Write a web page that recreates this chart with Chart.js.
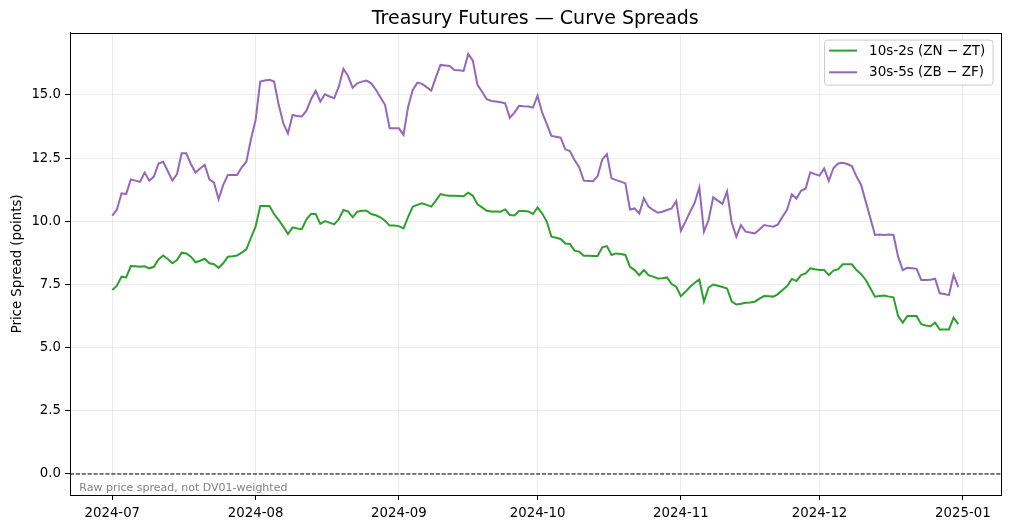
<!DOCTYPE html>
<html><head><meta charset="utf-8">
<script src="https://cdn.jsdelivr.net/npm/chart.js@4.4.1/dist/chart.umd.min.js"></script>
<style>html,body{margin:0;padding:0;background:#fff;}#wrap{width:1010px;height:529px;}</style>
</head><body><div id="wrap"><canvas id="c" width="1010" height="529"></canvas></div>
<script>
// Daily observations, 2024-07-01 .. 2024-12-31
const startDate = [2024, 6, 1];
const tickLabels = ['2024-07', '2024-08', '2024-09', '2024-10', '2024-11', '2024-12', '2025-01'];
const tickMonths = [[2024,6],[2024,7],[2024,8],[2024,9],[2024,10],[2024,11],[2025,0]];
const seriesLabels = ['10s-2s (ZN \u2212 ZT)', '30s-5s (ZB \u2212 ZF)'];

const spread10s2s = [
  // Jul
  7.28, 7.45, 7.81, 7.78, 8.23, 8.22, 8.20, 8.22, 8.14, 8.20, 8.49, 8.65, 8.51, 8.34, 8.47, 8.76,
  8.73, 8.60, 8.38, 8.44, 8.52, 8.34, 8.30, 8.16, 8.34, 8.60, 8.62, 8.65, 8.76, 8.89, 9.35,
  // Aug
  9.79, 10.61, 10.61, 10.61, 10.29, 10.05, 9.79, 9.50, 9.76, 9.72, 9.69, 10.08, 10.29, 10.29, 9.90, 10.01,
  9.95, 9.88, 10.08, 10.45, 10.39, 10.16, 10.38, 10.42, 10.42, 10.29, 10.24, 10.16, 10.02, 9.83, 9.83,
  // Sep
  9.81, 9.72, 10.18, 10.58, 10.65, 10.71, 10.65, 10.58, 10.82, 11.08, 11.03, 11.01, 11.01, 11.00, 10.99,
  11.13, 11.01, 10.67, 10.55, 10.42, 10.39, 10.39, 10.38, 10.47, 10.25, 10.23, 10.41, 10.41, 10.39, 10.29,
  // Oct
  10.55, 10.31, 9.99, 9.39, 9.35, 9.30, 9.12, 9.10, 8.84, 8.80, 8.64, 8.64, 8.63, 8.63, 8.97, 9.02,
  8.67, 8.73, 8.71, 8.67, 8.20, 8.07, 7.87, 8.07, 7.87, 7.81, 7.74, 7.75, 7.78, 7.52, 7.41,
  // Nov
  7.04, 7.21, 7.41, 7.57, 7.70, 6.82, 7.38, 7.50, 7.45, 7.40, 7.34, 6.82, 6.71, 6.74, 6.78,
  6.79, 6.82, 6.94, 7.04, 7.03, 7.02, 7.12, 7.28, 7.44, 7.72, 7.64, 7.87, 7.94, 8.14, 8.10,
  // Dec
  8.07, 8.07, 7.87, 8.05, 8.10, 8.30, 8.30, 8.30, 8.07, 7.91, 7.68, 7.35, 7.02, 7.04, 7.06, 7.02,
  6.99, 6.25, 5.99, 6.25, 6.25, 6.25, 5.93, 5.88, 5.85, 5.99, 5.72, 5.72, 5.72, 6.19, 5.93
];

const spread30s5s = [
  // Jul
  10.22, 10.47, 11.11, 11.08, 11.66, 11.61, 11.56, 11.93, 11.61, 11.77, 12.29, 12.36, 11.99, 11.61, 11.87, 12.69,
  12.69, 12.27, 11.93, 12.09, 12.23, 11.66, 11.53, 10.87, 11.44, 11.83, 11.83, 11.83, 12.14, 12.36, 13.25,
  // Aug
  14.01, 15.53, 15.57, 15.60, 15.53, 14.61, 13.88, 13.48, 14.21, 14.17, 14.15, 14.38, 14.83, 15.17, 14.74, 15.03,
  14.94, 14.87, 15.33, 16.03, 15.75, 15.29, 15.46, 15.53, 15.57, 15.46, 15.22, 14.91, 14.61, 13.68, 13.68,
  // Sep
  13.68, 13.42, 14.54, 15.20, 15.49, 15.44, 15.31, 15.17, 15.70, 16.19, 16.17, 16.15, 15.99, 15.98, 15.95,
  16.63, 16.36, 15.40, 15.13, 14.83, 14.76, 14.74, 14.71, 14.67, 14.10, 14.30, 14.57, 14.55, 14.54, 14.50,
  // Oct
  14.97, 14.30, 13.85, 13.38, 13.35, 13.31, 12.85, 12.78, 12.43, 12.14, 11.61, 11.60, 11.59, 11.79, 12.45, 12.66,
  11.70, 11.63, 11.57, 11.50, 10.47, 10.51, 10.31, 10.91, 10.58, 10.45, 10.34, 10.38, 10.45, 10.51, 10.80,
  // Nov
  9.63, 9.99, 10.38, 10.74, 11.34, 9.59, 10.05, 10.95, 10.82, 10.69, 11.18, 9.95, 9.39, 9.85, 9.59,
  9.56, 9.52, 9.68, 9.85, 9.82, 9.79, 9.88, 10.18, 10.47, 11.07, 10.90, 11.21, 11.30, 11.94, 11.87,
  // Dec
  11.81, 12.09, 11.60, 12.10, 12.29, 12.32, 12.27, 12.19, 11.77, 11.44, 10.78, 10.12, 9.46, 9.48, 9.46, 9.48,
  9.46, 8.60, 8.07, 8.16, 8.14, 8.12, 7.68, 7.68, 7.69, 7.73, 7.15, 7.12, 7.08, 7.88, 7.41
];

const yTicks = [0, 2.5, 5, 7.5, 10, 12.5, 15];

const DAY = 86400000;
const t0 = Date.UTC(startDate[0], startDate[1], startDate[2]);
const monthOffsets = tickMonths.map(([y, m]) => (Date.UTC(y, m, 1) - t0) / DAY);
const toPts = arr => arr.map((v, i) => ({ x: i, y: v }));
const nDays = spread10s2s.length - 1;
const xPad = nDays * 0.05;
const allVals = spread10s2s.concat(spread30s5s, [0]);
const yLo = Math.min(...allVals), yHi = Math.max(...allVals);
const yPad = (yHi - yLo) * 0.05;

const FONT = "'DejaVu Sans', 'Liberation Sans', sans-serif";

const extras = {
  id: 'extras',
  afterDatasetsDraw(chart) {
    const { ctx, chartArea: a, scales } = chart;
    ctx.save();
    // zero line
    const y0 = scales.y.getPixelForValue(0);
    ctx.strokeStyle = '#000';
    ctx.lineWidth = 1.1;
    ctx.setLineDash([4.1, 1.8]);
    ctx.beginPath();
    ctx.moveTo(a.left, y0);
    ctx.lineTo(a.right, y0);
    ctx.stroke();
    ctx.setLineDash([]);
    // frame
    ctx.lineWidth = 1;
    ctx.strokeRect(Math.round(a.left) + 0.5, Math.round(a.top) + 0.5, Math.round(a.right - a.left), Math.round(a.bottom - a.top));
    // footnote
    ctx.fillStyle = '#808080';
    ctx.font = "11px " + FONT;
    ctx.textAlign = 'left';
    ctx.textBaseline = 'alphabetic';
    ctx.fillText('Raw price spread, not DV01-weighted', a.left + 9.3, a.bottom - 4.3);
    // legend
    const bw = 168.5, bh = 45;
    const bx = a.right - 7.5 - bw, by = a.top + 7.3;
    const r = 3;
    ctx.beginPath();
    ctx.moveTo(bx + r, by);
    ctx.lineTo(bx + bw - r, by);
    ctx.arcTo(bx + bw, by, bx + bw, by + r, r);
    ctx.lineTo(bx + bw, by + bh - r);
    ctx.arcTo(bx + bw, by + bh, bx + bw - r, by + bh, r);
    ctx.lineTo(bx + r, by + bh);
    ctx.arcTo(bx, by + bh, bx, by + bh - r, r);
    ctx.lineTo(bx, by + r);
    ctx.arcTo(bx, by, bx + r, by, r);
    ctx.closePath();
    ctx.fillStyle = 'rgba(255,255,255,0.8)';
    ctx.fill();
    ctx.strokeStyle = '#cccccc';
    ctx.lineWidth = 1;
    ctx.stroke();
    const rows = [by + 10.5, by + 32.2];
    chart.data.datasets.forEach((ds, i) => {
      const ly = rows[i];
      ctx.strokeStyle = ds.borderColor;
      ctx.lineWidth = 2;
      ctx.beginPath();
      ctx.moveTo(bx + 4.6, ly);
      ctx.lineTo(bx + 32.6, ly);
      ctx.stroke();
      ctx.fillStyle = '#000';
      ctx.font = "13.5px " + FONT;
      ctx.textBaseline = 'middle';
      ctx.fillText(ds.label, bx + 44.6, ly + 0.5);
    });
    ctx.restore();
  }
};

new Chart(document.getElementById('c'), {
  type: 'line',
  data: {
    datasets: [
      { label: seriesLabels[0], data: toPts(spread10s2s), borderColor: '#2ca02c', borderWidth: 2, pointRadius: 0, tension: 0, fill: false },
      { label: seriesLabels[1], data: toPts(spread30s5s), borderColor: '#9467bd', borderWidth: 2, pointRadius: 0, tension: 0, fill: false }
    ]
  },
  options: {
    responsive: false,
    animation: false,
    devicePixelRatio: 1,
    layout: { padding: { left: 0, right: 9.5, top: 0, bottom: 0 } },
    plugins: {
      legend: { display: false },
      tooltip: { enabled: false },
      title: {
        display: true, text: 'Treasury Futures \u2014 Curve Spreads', color: '#000', fullSize: false,
        font: { family: FONT, size: 19, weight: 'normal', lineHeight: 1.2 },
        padding: { top: 8, bottom: 2 }
      }
    },
    scales: {
      x: {
        type: 'linear', min: -xPad, max: nDays + xPad,
        afterBuildTicks: s => { s.ticks = monthOffsets.map(v => ({ value: v })); },
        afterFit: s => { s.height = 34; },
        ticks: {
          callback: v => tickLabels[monthOffsets.indexOf(v)],
          color: '#000', font: { family: FONT, size: 13.3 }, padding: 6, maxRotation: 0, autoSkip: false
        },
        grid: { color: 'rgba(176,176,176,0.3)', lineWidth: 0.8, tickColor: '#000', tickLength: 5, tickWidth: 1 },
        border: { color: '#000', width: 1 }
      },
      y: {
        type: 'linear', min: yLo - yPad, max: yHi + yPad,
        afterBuildTicks: s => { s.ticks = yTicks.map(v => ({ value: v })); },
        afterFit: s => { s.width = 70; },
        ticks: {
          callback: v => Number(v).toFixed(1),
          color: '#000', font: { family: FONT, size: 13.3 }, padding: 4
        },
        title: {
          display: true, text: 'Price Spread (points)', color: '#000',
          font: { family: FONT, size: 13.3, lineHeight: 1.2 }, padding: { top: 10, bottom: 0 }
        },
        grid: { color: 'rgba(176,176,176,0.3)', lineWidth: 0.8, tickColor: '#000', tickLength: 5, tickWidth: 1 },
        border: { color: '#000', width: 1 }
      }
    }
  },
  plugins: [extras]
});
</script>
</body></html>
